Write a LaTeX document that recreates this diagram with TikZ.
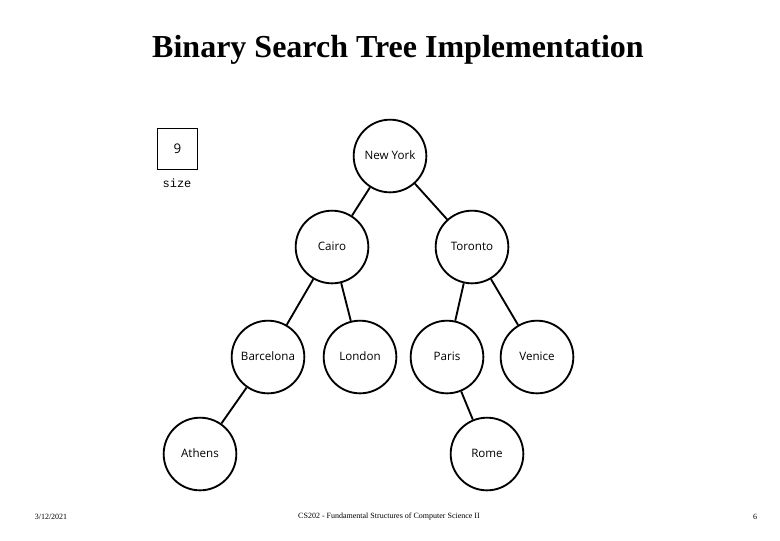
\documentclass[tikz,border=0pt]{standalone}
\usepackage{fontspec}
\setmainfont{Liberation Serif}
\newfontfamily\nodefont{Open Sans}
\newfontfamily\monofont{Liberation Mono}
\begin{document}
\begin{tikzpicture}[x=0.75pt,y=-0.75pt,
  city/.style={circle,draw,line width=1.4pt,minimum size=54.5pt,inner sep=0pt,text height=6.5pt,text depth=1.8pt,font=\nodefont\fontsize{8.7}{10}\selectfont},
  edge/.style={line width=1.4pt},
  foot/.style={font=\fontsize{6}{7}\selectfont}]
\useasboundingbox (0,0) rectangle (780,540);
\node[font=\bfseries\fontsize{24}{28}\selectfont] (title) at (398,50) {Binary Search Tree Implementation};
\node[draw,line width=1.2pt,minimum width=30pt,minimum height=31pt,inner sep=0pt,font=\nodefont\fontsize{10}{12}\selectfont] (sizebox) at (177.5,149) {9};
\node[font=\monofont\fontsize{9}{11}\selectfont] (sizelbl) at (177,183) {size};
\node[city] (ny) at (390,156) {New York};
\node[city] (cairo) at (332,247) {Cairo};
\node[city] (toronto) at (472,247) {Toronto};
\node[city] (barcelona) at (268,357) {Barcelona};
\node[city] (london) at (360,357) {London};
\node[city] (paris) at (447,357) {Paris};
\node[city] (venice) at (537,357) {Venice};
\node[city] (athens) at (200,454) {Athens};
\node[city] (rome) at (487,454) {Rome};
\draw[edge] (ny) -- (cairo);
\draw[edge] (ny) -- (toronto);
\draw[edge] (cairo) -- (barcelona);
\draw[edge] (cairo) -- (london);
\draw[edge] (toronto) -- (paris);
\draw[edge] (toronto) -- (venice);
\draw[edge] (barcelona) -- (athens);
\draw[edge] (paris) -- (rome);
\node[foot] (date) at (51,517) {3/12/2021};
\node[foot] (course) at (389,517) {CS202 - Fundamental Structures of Computer Science II};
\node[foot] (page) at (755,517) {6};
\end{tikzpicture}
\end{document}
